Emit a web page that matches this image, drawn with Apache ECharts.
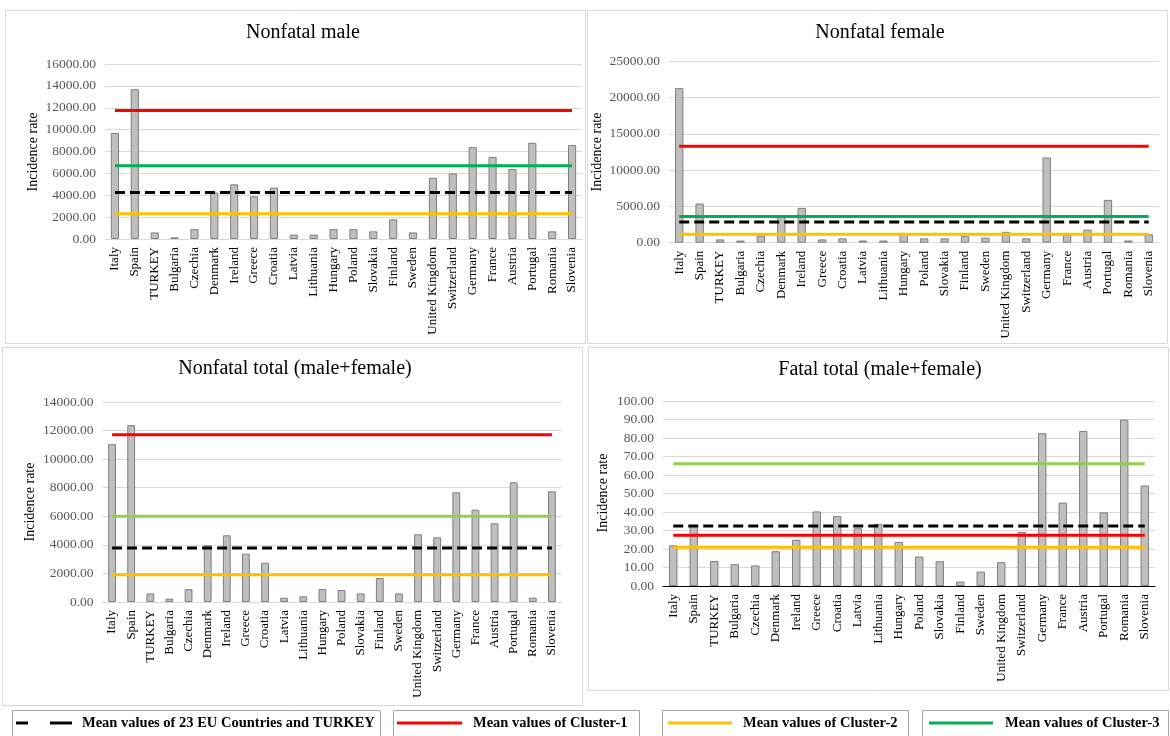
<!DOCTYPE html>
<html>
<head>
<meta charset="utf-8">
<script src="https://cdn.jsdelivr.net/npm/echarts@6/dist/echarts.min.js"></script>
<style>
  html, body { margin: 0; padding: 0; background: #ffffff; }
  #chart { width: 1170px; height: 736px; }
</style>
</head>
<body>
<div id="chart"></div>
<script>
// Countries along every category axis
const countries = ['Italy', 'Spain', 'TURKEY', 'Bulgaria', 'Czechia', 'Denmark', 'Ireland', 'Greece',
  'Croatia', 'Latvia', 'Lithuania', 'Hungary', 'Poland', 'Slovakia', 'Finland', 'Sweden',
  'United Kingdom', 'Switzerland', 'Germany', 'France', 'Austria', 'Portugal', 'Romania', 'Slovenia'];

// Incidence rates per country
const nonfatalMale = [9700, 13700, 600, 150, 900, 4250, 5000, 3900, 4700, 400, 400, 900,
  900, 700, 1800, 600, 5600, 6000, 8400, 7500, 6400, 8800, 700, 8600];
const nonfatalFemale = [21300, 5400, 450, 300, 1000, 3700, 4800, 450, 600, 300, 300, 1200,
  600, 600, 900, 700, 1500, 600, 11750, 1100, 1800, 5900, 300, 1150];
const nonfatalTotal = [11050, 12380, 600, 230, 900, 3970, 4670, 3380, 2750, 300, 400, 900,
  840, 600, 1680, 600, 4740, 4530, 7680, 6460, 5510, 8380, 300, 7750];
const fatalTotal = [22.0, 33.0, 13.5, 11.8, 11.1, 18.8, 25.0, 40.3, 37.8, 31.2, 33.6, 23.8,
  15.9, 13.4, 2.4, 7.8, 12.9, 29.2, 82.6, 45.1, 83.8, 39.8, 89.9, 54.3];

// Mean values: [all 24 countries, Cluster-1, Cluster-2, Cluster-3]
const meansMale = [4250, 11750, 2300, 6700];
const meansFemale = [2850, 13300, 1150, 3600];
const meansTotal = [3780, 11700, 1910, 6000];
const meansFatal = [32.4, 27.4, 20.9, 66.1];

// Axis ranges: [max, interval]
const yRangeMale = [16000, 2000];
const yRangeFemale = [25000, 5000];
const yRangeTotal = [14000, 2000];
const yRangeFatal = [100, 10];

const panelTitles = ['Nonfatal male', 'Nonfatal female', 'Nonfatal total (male+female)', 'Fatal total (male+female)'];
const legendLabels = ['Mean values of 23 EU Countries and TURKEY', 'Mean values of Cluster-1',
  'Mean values of Cluster-2', 'Mean values of Cluster-3'];

const FONT = 'Liberation Serif';
const RED = '#ff0000', YELLOW = '#ffc000', GREEN = '#00b050', LIGHTGREEN = '#92d050';

const panels = [
  { values: nonfatalMale, means: meansMale, range: yRangeMale, green: GREEN,
    grid: { left: 105, top: 64, width: 477, height: 175 }, axisColor: '#d9d9d9',
    border: [5, 10, 580, 333], titlePos: [303, 33], namePos: [33, 152] },
  { values: nonfatalFemale, means: meansFemale, range: yRangeFemale, green: GREEN,
    grid: { left: 669, top: 61.3, width: 490, height: 181.4 }, axisColor: '#d9d9d9',
    border: [587, 10, 580, 333], titlePos: [880, 33], namePos: [597, 152] },
  { values: nonfatalTotal, means: meansTotal, range: yRangeTotal, green: LIGHTGREEN,
    grid: { left: 102.5, top: 402, width: 459, height: 200 }, axisColor: '#d9d9d9',
    border: [2, 347, 580, 358], titlePos: [295, 369], namePos: [30, 502] },
  { values: fatalTotal, means: meansFatal, range: yRangeFatal, green: LIGHTGREEN,
    grid: { left: 663, top: 401, width: 492, height: 185 }, axisColor: '#000000',
    border: [588, 347, 580, 343], titlePos: [880, 370], namePos: [603, 493] }
];

const grids = [], xAxes = [], yAxes = [], series = [], graphics = [];

panels.forEach((p, i) => {
  grids.push(Object.assign({ containLabel: false }, p.grid));
  xAxes.push({
    type: 'category', gridIndex: i, data: countries,
    axisTick: { show: false },
    axisLine: { lineStyle: { color: p.axisColor, width: 1 } },
    axisLabel: { interval: 0, rotate: 90, margin: 8, color: '#000', fontFamily: FONT, fontSize: 13 }
  });
  yAxes.push({
    type: 'value', gridIndex: i, min: 0, max: p.range[0], interval: p.range[1],
    axisLine: { show: false }, axisTick: { show: false },
    splitLine: { lineStyle: { color: '#d9d9d9', width: 1 } },
    axisLabel: { color: '#595959', fontFamily: FONT, fontSize: 13.5, margin: 9,
      formatter: v => v.toFixed(2) }
  });
  series.push({
    type: 'bar', xAxisIndex: i, yAxisIndex: i, data: p.values, barWidth: '41%',
    itemStyle: { color: '#bfbfbf', borderColor: '#7f7f7f', borderWidth: 1 },
    silent: true, z: 2
  });
  const lineDefs = [
    { mean: p.means[1], color: RED, type: 'solid' },
    { mean: p.means[2], color: YELLOW, type: 'solid' },
    { mean: p.means[3], color: p.green, type: 'solid' },
    { mean: p.means[0], color: '#000000', type: [10, 5] }
  ];
  lineDefs.forEach(d => {
    series.push({
      type: 'line', xAxisIndex: i, yAxisIndex: i,
      data: countries.map(() => d.mean),
      symbol: 'none', silent: true, z: 3, animation: false,
      lineStyle: { color: d.color, width: 3, type: d.type }
    });
  });
  // panel frame
  graphics.push({
    type: 'rect', shape: { x: p.border[0] + 0.5, y: p.border[1] + 0.5, width: p.border[2], height: p.border[3] },
    style: { fill: 'none', stroke: '#d9d9d9', lineWidth: 1 }, z: -1
  });
  // panel title
  graphics.push({
    type: 'text', x: p.titlePos[0], y: p.titlePos[1],
    style: { text: panelTitles[i], font: '20px "' + FONT + '"', fill: '#000',
      textAlign: 'center', textVerticalAlign: 'middle' }
  });
  // y-axis name
  graphics.push({
    type: 'text', x: p.namePos[0], y: p.namePos[1], rotation: Math.PI / 2,
    style: { text: 'Incidence rate', font: '14px "' + FONT + '"', fill: '#000',
      textAlign: 'center', textVerticalAlign: 'middle' }
  });
});

// Legend boxes along the bottom edge
const legendBoxes = [
  { box: [12, 380], line: [[16, 28], [50, 72]], color: '#000000', textX: 82 },
  { box: [393, 639], line: [[397, 462]], color: RED, textX: 473 },
  { box: [662, 908], line: [[668, 732]], color: YELLOW, textX: 743 },
  { box: [922, 1168], line: [[929, 993]], color: GREEN, textX: 1005 }
];
legendBoxes.forEach((b, i) => {
  graphics.push({
    type: 'rect', shape: { x: b.box[0] + 0.5, y: 710.5, width: b.box[1] - b.box[0], height: 40 },
    style: { fill: '#fff', stroke: '#a6a6a6', lineWidth: 1 }
  });
  b.line.forEach(seg => {
    graphics.push({
      type: 'line', shape: { x1: seg[0], y1: 723, x2: seg[1], y2: 723 },
      style: { stroke: b.color, lineWidth: 3 }
    });
  });
  graphics.push({
    type: 'text', x: b.textX, y: 723,
    style: { text: legendLabels[i], font: 'bold 14.5px "' + FONT + '"', fill: '#000',
      textAlign: 'left', textVerticalAlign: 'middle' }
  });
});

const chart = echarts.init(document.getElementById('chart'), null, { renderer: 'canvas' });
chart.setOption({
  backgroundColor: '#ffffff',
  animation: false,
  grid: grids,
  xAxis: xAxes,
  yAxis: yAxes,
  series: series,
  graphic: graphics
});
</script>
</body>
</html>
